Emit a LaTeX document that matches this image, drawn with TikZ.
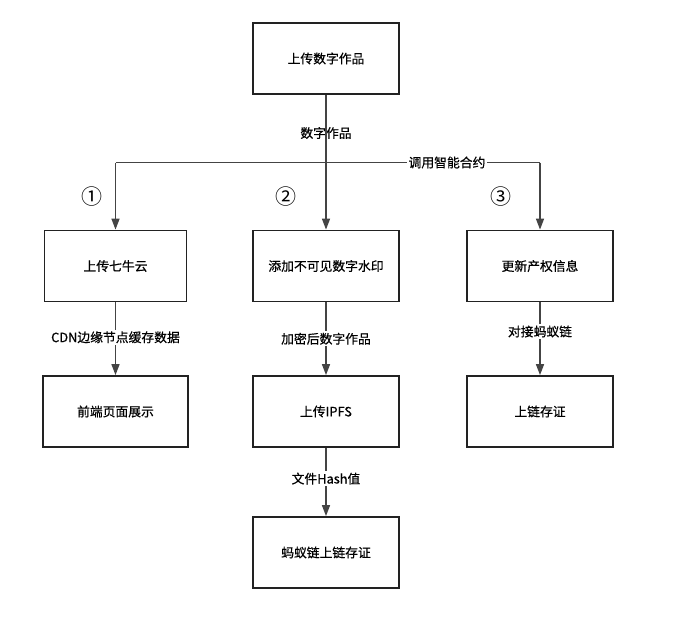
\documentclass[tikz,border=0pt]{standalone}
\usepackage{fontspec}
\setmainfont{Noto Sans CJK SC}
\newfontfamily\medfont{Noto Sans CJK SC}[FakeBold=0.5]
\newfontfamily\circfont{Noto Sans CJK SC}
\usetikzlibrary{arrows.meta}
\definecolor{boxline}{HTML}{222222}
\definecolor{conn}{HTML}{444444}
\begin{document}
\begin{tikzpicture}[x=1pt,y=-1pt,
  box/.style={draw=boxline,line width=1.8pt,fill=white,minimum width=146pt,minimum height=71pt,inner sep=0pt,font=\medfont\fontsize{12.8}{14}\selectfont},
  sbox/.style={box,minimum width=142pt},
  arr/.style={draw=conn,line width=1.5pt,-{Triangle[length=11pt,width=8pt]}},
  ln/.style={draw=conn,line width=1.5pt},
  lbl/.style={fill=white,inner sep=1.5pt,font=\medfont\fontsize{12.8}{14}\selectfont},
  lblnf/.style={inner sep=1pt,font=\medfont\fontsize{12.8}{14}\selectfont},
  num/.style={inner sep=0pt,font=\circfont\fontsize{21}{24}\selectfont}]
\useasboundingbox (0,0) rectangle (676,630);
\fill[white] (0,0) rectangle (676,630);
% nodes
\node[box] (top) at (326,58.5) {上传数字作品};
\node[sbox] (a1) at (115.5,266) {上传七牛云};
\node[box] (b1) at (326,266) {添加不可见数字水印};
\node[box] (c1) at (540,266) {更新产权信息};
\node[sbox,minimum width=145pt] (a2) at (115.5,411.5) {前端页面展示};
\node[box] (b2) at (326,411.5) {上传IPFS};
\node[box] (c2) at (540,411.5) {上链存证};
\node[box] (b3) at (326,552.5) {蚂蚁链上链存证};
% junction
\coordinate (jc) at (326,162.5);
% connectors
\node[lblnf] (l0) at (326,133) {数字作品};
\draw[arr] (top.south) -- (b1.north);
\draw[ln] (jc) -- (jc -| a1.north) coordinate (jl);
\draw[ln] (jc) -- (jc -| c1.north) coordinate (jr);
\draw[arr] (jl) -- (a1.north);
\draw[arr] (jr) -- (c1.north);
\node[lbl] (l1) at (447,162.5) {调用智能合约};
\draw[arr] (a1.south) -- (a2.north) node[lbl,pos=0.48] (l2) {CDN边缘节点缓存数据};
\draw[arr] (b1.south) -- (b2.north) node[lbl,pos=0.5] (l3) {加密后数字作品};
\draw[arr] (c1.south) -- (c2.north) node[lbl,pos=0.4] (l4) {对接蚂蚁链};
\draw[arr] (b2.south) -- (b3.north) node[lbl,pos=0.45] (l5) {文件Hash值};
% circled numbers
\node[num] (n1) at (92,197) {①};
\node[num] (n2) at (286,197) {②};
\node[num] (n3) at (501,197) {③};
\end{tikzpicture}
\end{document}
